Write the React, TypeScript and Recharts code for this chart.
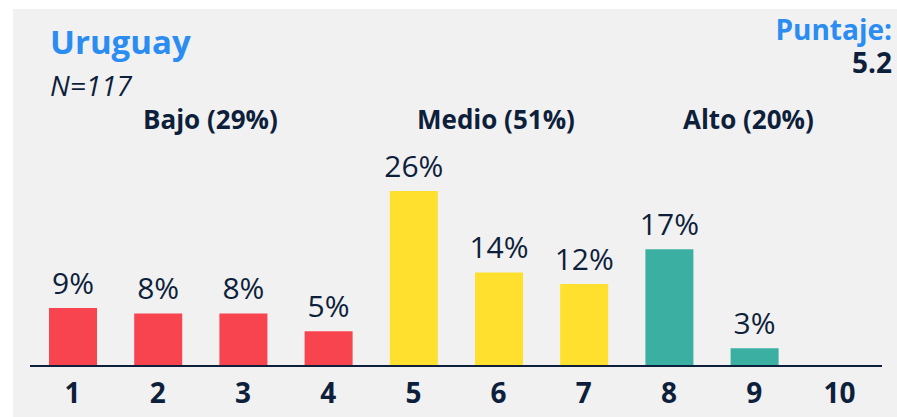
import React from "react";
import { BarChart, Bar, XAxis, YAxis, Cell, LabelList } from "recharts";

const categories = ["1", "2", "3", "4", "5", "6", "7", "8", "9", "10"];
const shares = [8.5, 7.7, 7.7, 5.1, 25.6, 13.7, 12.0, 17.1, 2.6, 0];
const levels = ["bajo", "bajo", "bajo", "bajo", "medio", "medio", "medio", "alto", "alto", "alto"];
const groupLabels = ["Bajo (29%)", "Medio (51%)", "Alto (20%)"];
const title = "Uruguay";
const sampleLabel = "N=117";
const scoreLabel = "Puntaje:";
const scoreValue = "5.2";

const COLORS: Record<string, string> = {
  bajo: "#F8444F",
  medio: "#FFE02E",
  alto: "#3AAFA2",
};
const NAVY = "#0E1F3B";
const BLUE = "#2B8CF2";
const FONT = "'Open Sans', 'Noto Sans', sans-serif";

const data = categories.map((c, i) => ({ cat: c, value: shares[i], level: levels[i] }));

const Tick = (props: any) => {
  const { x, y, payload } = props;
  return (
    <text x={x} y={y + 37} textAnchor="middle" fill={NAVY} fontFamily={FONT} fontWeight={700} fontSize={28}>
      {payload.value}
    </text>
  );
};

const txt = (extra: React.CSSProperties): React.CSSProperties => ({
  position: "absolute",
  lineHeight: 1,
  whiteSpace: "nowrap",
  ...extra,
});

export default function App() {
  return (
    <div style={{ position: "absolute", left: 0, top: 0, width: 897, height: 417, background: "#ffffff", overflow: "hidden", fontFamily: FONT }}>
      <div style={{ position: "absolute", left: 13, top: 9, width: 884, height: 408, background: "#F1F1F1" }} />
      <div style={{ position: "absolute", left: 0, top: 0 }}>
        <BarChart width={897} height={417} data={data} margin={{ top: 161, right: 15, bottom: 0, left: 30 }}>
          <YAxis hide domain={[0, 30]} />
          <XAxis
            dataKey="cat"
            height={51}
            tickLine={false}
            tickSize={0}
            tickMargin={0}
            axisLine={{ stroke: NAVY, strokeWidth: 2 }}
            tick={<Tick />}
            interval={0}
          />
          <Bar dataKey="value" barSize={48} isAnimationActive={false}>
            {data.map((d, i) => (
              <Cell key={i} fill={COLORS[d.level]} />
            ))}
            <LabelList
              dataKey="value"
              position="top"
              offset={14}
              fill={NAVY}
              fontFamily={FONT}
              fontSize={30}
              formatter={(v: any) => (v > 0 ? `${Math.round(v)}%` : "")}
            />
          </Bar>
        </BarChart>
      </div>
      <div style={txt({ left: 50, top: 25, color: BLUE, fontWeight: 700, fontSize: 33 })}>{title}</div>
      <div style={txt({ left: 50, top: 71, color: NAVY, fontStyle: "italic", fontSize: 28 })}>{sampleLabel}</div>
      <div style={txt({ right: 5, top: 15, color: BLUE, fontWeight: 700, fontSize: 28, textAlign: "right" })}>{scoreLabel}</div>
      <div style={txt({ right: 5, top: 48, color: NAVY, fontWeight: 700, fontSize: 28, textAlign: "right" })}>{scoreValue}</div>
      <div style={txt({ left: 143, top: 106, color: NAVY, fontWeight: 700, fontSize: 26 })}>{groupLabels[0]}</div>
      <div style={txt({ left: 417, top: 106, color: NAVY, fontWeight: 700, fontSize: 26 })}>{groupLabels[1]}</div>
      <div style={txt({ left: 683, top: 106, color: NAVY, fontWeight: 700, fontSize: 26 })}>{groupLabels[2]}</div>
    </div>
  );
}
